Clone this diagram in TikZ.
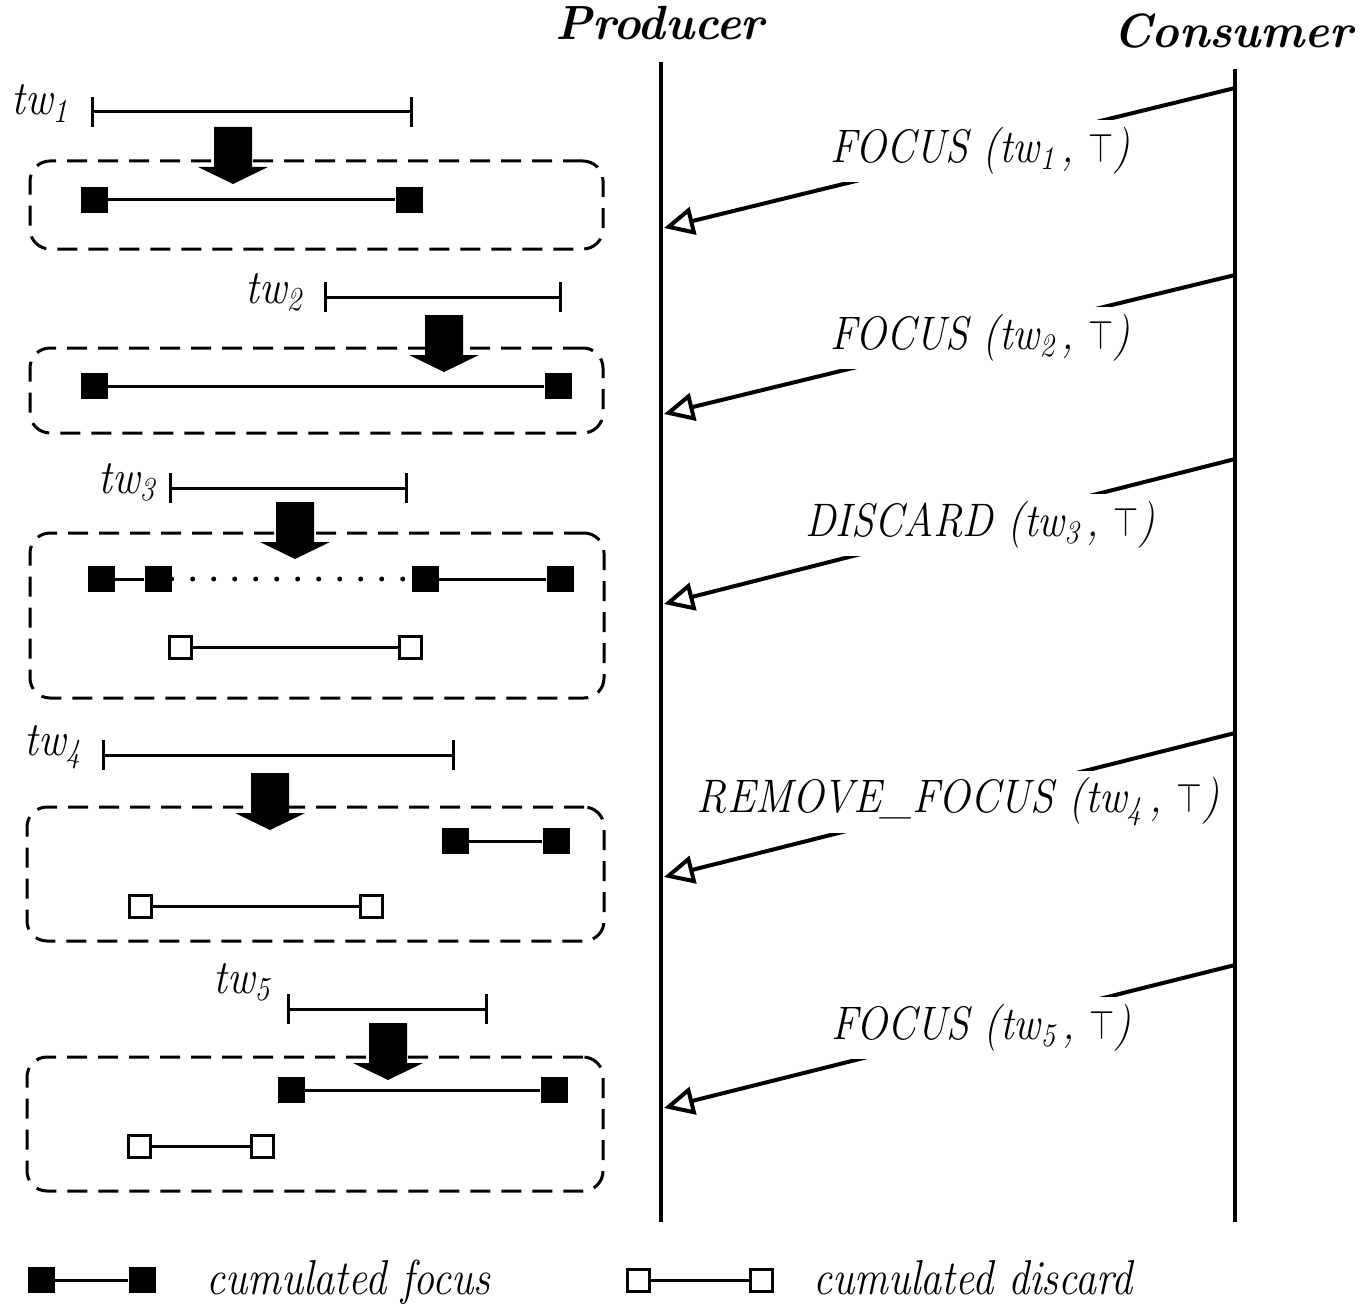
\RequirePackage{fix-cm}
\documentclass[tikz,border=0pt]{standalone}
\usepackage{fontspec}
\usetikzlibrary{arrows.meta}
% narrow, tall lettering used throughout the labels
\newcommand{\condensed}[2][0.88]{\scalebox{#1}[1]{#2}}
% the "true" constant, a little smaller than the text capitals
\newcommand{\truesym}{\scalebox{0.78}[0.88]{$\top$}}
\begin{document}
\begin{tikzpicture}[x=1pt,y=-1pt,
  lifeline/.style={line width=4pt},
  msg/.style={line width=4pt,-{Triangle[open,length=30pt,width=28pt]}},
  msglabel/.style={fill=white,inner xsep=14pt,inner ysep=7pt,
    font=\fontsize{47}{50}\selectfont\itshape},
  title/.style={font=\fontsize{48}{52}\selectfont\bfseries\itshape,anchor=base},
  twlabel/.style={font=\fontsize{48}{50}\selectfont\itshape,anchor=base east,inner sep=0pt},
  legendtext/.style={font=\fontsize{49}{52}\selectfont\itshape,anchor=base west,inner sep=0pt},
  interval/.style={line width=3pt,{Bar[width=30pt]}-{Bar[width=30pt]}},
  groupbox/.style={draw,line width=3pt,dash pattern=on 20pt off 11pt,
    rounded corners=20pt,inner sep=0pt},
  focusbox/.style={fill=black,inner sep=0pt,minimum width=27pt,minimum height=26pt},
  discardbox/.style={draw,fill=white,line width=3pt,inner sep=0pt,minimum size=22pt},
  span/.style={line width=3pt},
  gapline/.style={line width=5pt,line cap=round,dash pattern=on 0pt off 21pt},
  fatarrow/.pic={\fill (-19,0) -- (19,0) -- (19,40) -- (35,40) -- (0,57)
    -- (-35,40) -- (-19,40) -- cycle;}
]
\useasboundingbox (0,0) rectangle (1365,1308);

% ---------- lifelines ----------
\node[title] (prod) at (660,40) {\condensed[0.97]{Producer}};
\node[title] (cons) at (1233,48) {\condensed[0.97]{Consumer}};
\coordinate (prodtop) at (661,62);
\coordinate (prodbot) at (661,1222);
\coordinate (constop) at (1235,69);
\coordinate (consbot) at (1235,1222);
\draw[lifeline] (prodtop) -- (prodbot);
\draw[lifeline] (constop) -- (consbot);

% ---------- messages ----------
\coordinate (c1) at (1235,88);  \coordinate (p1) at (664,228);
\coordinate (c2) at (1235,275); \coordinate (p2) at (664,414);
\coordinate (c3) at (1235,459); \coordinate (p3) at (664,604);
\coordinate (c4) at (1235,733); \coordinate (p4) at (664,877);
\coordinate (c5) at (1235,965); \coordinate (p5) at (664,1108);
\foreach \i in {1,...,5} {\draw[msg] (c\i) -- (p\i);}
\node[msglabel] (m1) at (980,151) {\condensed{FOCUS (tw\textsubscript{1}\,, \truesym)}};
\node[msglabel] (m2) at (980,338) {\condensed{FOCUS (tw\textsubscript{2}\,, \truesym)}};
\node[msglabel] (m3) at (980,525) {\condensed{DISCARD (tw\textsubscript{3}\,, \truesym)}};
\node[msglabel] (m4) at (958,802) {\condensed[0.9]{REMOVE\_FOCUS (tw\textsubscript{4}\,, \truesym)}};
\node[msglabel] (m5) at (981,1028) {\condensed{FOCUS (tw\textsubscript{5}\,, \truesym)}};

% ---------- step 1 ----------
\node[twlabel] (tw1) at (68,115) {\condensed{tw\textsubscript{1}}};
\coordinate (i1a) at (91,112); \coordinate (i1b) at (413,112);
\draw[interval] (i1a) -- (i1b);
\node[groupbox,minimum width=573pt,minimum height=88pt] (g1) at (316.5,205) {};
\pic at (233,127) {fatarrow};
\node[focusbox] (f1a) at (94.5,200) {};
\node[focusbox] (f1b) at (409,200) {};
\draw[span] (f1a) -- (f1b);

% ---------- step 2 ----------
\node[twlabel] (tw2) at (302,303) {\condensed{tw\textsubscript{2}}};
\coordinate (i2a) at (324,297); \coordinate (i2b) at (562,297);
\draw[interval] (i2a) -- (i2b);
\node[groupbox,minimum width=573pt,minimum height=85pt] (g2) at (316.5,390.5) {};
\pic at (444,315) {fatarrow};
\node[focusbox] (f2a) at (94.5,386) {};
\node[focusbox] (f2b) at (558,386) {};
\draw[span] (f2a) -- (f2b);

% ---------- step 3 ----------
\node[twlabel] (tw3) at (155,493) {\condensed{tw\textsubscript{3}}};
\coordinate (i3a) at (169,488); \coordinate (i3b) at (408,488);
\draw[interval] (i3a) -- (i3b);
\node[groupbox,minimum width=574pt,minimum height=165pt] (g3) at (317,615.5) {};
\pic at (295,502) {fatarrow};
\node[focusbox] (f3a) at (101,579) {};
\node[focusbox] (f3b) at (158,579) {};
\node[focusbox] (f3c) at (425,579) {};
\node[focusbox] (f3d) at (560,579) {};
\draw[span] (f3a) -- (f3b);
\draw[gapline] (f3b.east) -- (f3c.west);
\draw[span] (f3c) -- (f3d);
\node[discardbox] (d3a) at (180,647) {};
\node[discardbox] (d3b) at (410,647) {};
\draw[span] (d3a) -- (d3b);

% ---------- step 4 ----------
\node[twlabel] (tw4) at (81,755) {\condensed{tw\textsubscript{4}}};
\coordinate (i4a) at (102,755); \coordinate (i4b) at (455,755);
\draw[interval] (i4a) -- (i4b);
\node[groupbox,minimum width=577pt,minimum height=134pt] (g4) at (315.5,874) {};
\pic at (270,773) {fatarrow};
\node[focusbox] (f4a) at (455,841) {};
\node[focusbox] (f4b) at (556,841) {};
\draw[span] (f4a) -- (f4b);
\node[discardbox] (d4a) at (140,906) {};
\node[discardbox] (d4b) at (371,906) {};
\draw[span] (d4a) -- (d4b);

% ---------- step 5 ----------
\node[twlabel] (tw5) at (270,993) {\condensed{tw\textsubscript{5}}};
\coordinate (i5a) at (287,1009); \coordinate (i5b) at (488,1009);
\draw[interval] (i5a) -- (i5b);
\node[groupbox,minimum width=576pt,minimum height=134pt] (g5) at (315,1124) {};
\pic at (388,1023) {fatarrow};
\node[focusbox] (f5a) at (291,1090) {};
\node[focusbox] (f5b) at (554,1090) {};
\draw[span] (f5a) -- (f5b);
\node[discardbox] (d5a) at (139,1146) {};
\node[discardbox] (d5b) at (262,1146) {};
\draw[span] (d5a) -- (d5b);

% ---------- legend ----------
\node[focusbox] (lf1) at (41,1280) {};
\node[focusbox] (lf2) at (142,1280) {};
\draw[span] (lf1) -- (lf2);
\node[legendtext] (lft) at (206,1294) {\condensed[0.86]{cumulated focus}};
\node[discardbox] (ld1) at (638,1280) {};
\node[discardbox] (ld2) at (761,1280) {};
\draw[span] (ld1) -- (ld2);
\node[legendtext] (ldt) at (813,1294) {\condensed[0.86]{cumulated discard}};
\end{tikzpicture}
\end{document}
